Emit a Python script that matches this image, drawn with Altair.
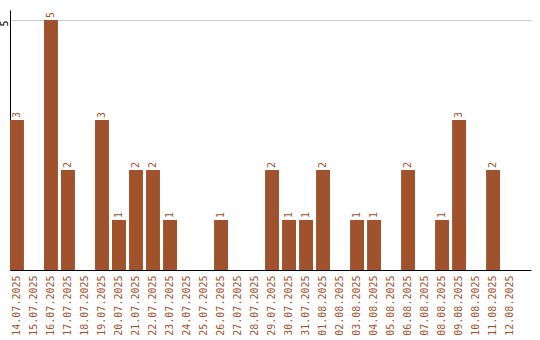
import altair as alt
import pandas as pd

dates = ["14.07.2025", "15.07.2025", "16.07.2025", "17.07.2025", "18.07.2025",
         "19.07.2025", "20.07.2025", "21.07.2025", "22.07.2025", "23.07.2025",
         "24.07.2025", "25.07.2025", "26.07.2025", "27.07.2025", "28.07.2025",
         "29.07.2025", "30.07.2025", "31.07.2025", "01.08.2025", "02.08.2025",
         "03.08.2025", "04.08.2025", "05.08.2025", "06.08.2025", "07.08.2025",
         "08.08.2025", "09.08.2025", "10.08.2025", "11.08.2025", "12.08.2025"]
counts = [3, 0, 5, 2, 0, 3, 1, 2, 2, 1, 0, 0, 1, 0, 0, 2, 1, 1, 2, 0,
          1, 1, 0, 2, 0, 1, 3, 0, 2, 0]

df = pd.DataFrame({"date": dates, "count": counts})
color = "#A0522D"
font = "DejaVu Sans Mono"

x = alt.X("date:N", sort=dates, title=None,
          scale=alt.Scale(paddingInner=0.18, paddingOuter=0.41, align=0),
          axis=alt.Axis(labelAngle=270, labelColor=color, labelFont=font,
                        labelFontSize=10, ticks=False, domainColor="black",
                        labelPadding=5, grid=False))
y = alt.Y("count:Q", title=None,
          scale=alt.Scale(domain=[0, 5.2], nice=False),
          axis=alt.Axis(values=[5], labelAngle=270, labelFont=font, labelFontSize=10,
                        labelColor="black", ticks=False, domainColor="black",
                        gridColor="#cccccc", labelPadding=3, labelAlign="right",
                        labelBaseline="alphabetic"))

bars = alt.Chart(df).mark_bar(color=color).encode(x=x, y=y)
text = alt.Chart(df).transform_filter("datum.count > 0").mark_text(
    angle=270, align="left", baseline="middle", dx=2, color=color,
    font=font, fontSize=10
).encode(x=alt.X("date:N", sort=dates), y="count:Q", text="count:Q")

chart = (bars + text).properties(
    width=521, height=260,
    background="white",
    autosize=alt.AutoSizeParams(type="none"),
    padding={"left": 10, "top": 10, "right": 9, "bottom": 70},
).configure_view(stroke=None)

chart.save("out.html", embed_options={"renderer": "svg", "actions": False})
